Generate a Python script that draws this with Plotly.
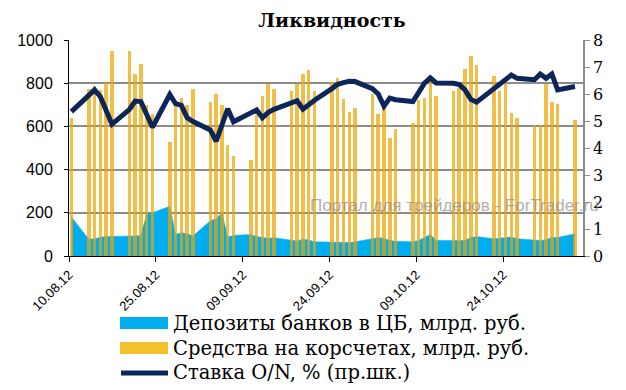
import pandas as pd
import plotly.graph_objects as go

dates = [
    "2012-08-10",
    "2012-08-13", "2012-08-14", "2012-08-15", "2012-08-16", "2012-08-17",
    "2012-08-20", "2012-08-21", "2012-08-22", "2012-08-23", "2012-08-24",
    "2012-08-27", "2012-08-28", "2012-08-29", "2012-08-30", "2012-08-31",
    "2012-09-03", "2012-09-04", "2012-09-05", "2012-09-06", "2012-09-07",
    "2012-09-10", "2012-09-11", "2012-09-12", "2012-09-13", "2012-09-14",
    "2012-09-17", "2012-09-18", "2012-09-19", "2012-09-20", "2012-09-21",
    "2012-09-24", "2012-09-25", "2012-09-26", "2012-09-27", "2012-09-28",
    "2012-10-01", "2012-10-02", "2012-10-03", "2012-10-04", "2012-10-05",
    "2012-10-08", "2012-10-09", "2012-10-10", "2012-10-11", "2012-10-12",
    "2012-10-15", "2012-10-16", "2012-10-17", "2012-10-18", "2012-10-19",
    "2012-10-22", "2012-10-23", "2012-10-24", "2012-10-25", "2012-10-26",
    "2012-10-29", "2012-10-30", "2012-10-31", "2012-11-01", "2012-11-02",
    "2012-11-05",
]

# Средства на корсчетах, млрд. руб.
corr_accounts = [
    640,
    775, 785, 770, 800, 948,
    948, 843, 890, 698, 656,
    530, 700, 732, 700, 775,
    715, 750, 700, 515, 465,
    445, 655, 740, 795, 775,
    766, 797, 842, 860, 766,
    805, 825, 725, 665, 683,
    750, 656, 685, 548, 590,
    615, 720, 732, 810, 740,
    766, 780, 868, 926, 885,
    835, 765, 805, 660, 640,
    605, 605, 795, 715, 705,
    630,
]

# Депозиты банков в ЦБ, млрд. руб.
deposits = [
    180,
    78, 80, 87, 90, 90,
    90, 93, 95, 195, 200,
    230, 100, 108, 103, 93,
    163, 172, 200, 88, 95,
    100, 90, 85, 82, 85,
    72, 70, 78, 74, 66,
    64, 64, 62, 62, 66,
    82, 85, 82, 72, 68,
    66, 72, 88, 100, 72,
    70, 70, 72, 86, 90,
    80, 82, 85, 88, 80,
    72, 72, 75, 86, 86,
    103,
]

# Ставка O/N, %
rate_on = [
    5.35,
    5.93, 6.15, 5.90, 5.33, 4.88,
    5.42, 5.74, 5.72, 5.23, 4.77,
    5.98, 5.64, 5.58, 5.12, 4.98,
    4.67, 4.25, 4.85, 5.45, 4.97,
    5.27, 5.41, 5.12, 5.32, 5.43,
    5.69, 5.75, 5.44, 5.63, 5.77,
    6.20, 6.36, 6.42, 6.47, 6.46,
    6.20, 6.00, 5.55, 5.85, 5.79,
    5.72, 6.08, 6.40, 6.60, 6.41,
    6.40, 6.35, 6.15, 5.80, 5.70,
    6.20, 6.37, 6.55, 6.70, 6.58,
    6.53, 6.74, 6.58, 6.74, 6.15,
    6.28,
]

title_text = "Ликвидность"
name_dep = "Депозиты банков в ЦБ, млрд. руб."
name_corr = "Средства на корсчетах, млрд. руб."
name_rate = "Ставка O/N, % (пр.шк.)"
watermark = "Портал для трейдеров - ForTrader.ru"

BLUE = "#00AEEF"
YELLOW = "rgba(236,165,0,0.72)"
YELLOW_LEG = "#F2C12E"
NAVY = "#0C2659"

x = pd.to_datetime(dates) + pd.Timedelta(hours=10)
DAY = 86400000

fig = go.Figure()
fig.add_trace(go.Scatter(
    x=x, y=deposits, name=name_dep, mode="lines", fill="tozeroy",
    fillcolor=BLUE, line=dict(color=BLUE, width=0.5), yaxis="y",
    showlegend=False,
))
fig.add_trace(go.Bar(
    x=x, y=corr_accounts, name=name_corr, marker=dict(color=YELLOW, line=dict(width=0)),
    width=0.6 * DAY, yaxis="y2", showlegend=False,
))
fig.add_trace(go.Scatter(
    x=x, y=rate_on, name=name_rate, mode="lines",
    line=dict(color=NAVY, width=5), yaxis="y3", showlegend=False,
))

# page offset (browser body margin) and plot area geometry in page px
OFF = 8
FW, FH = 626 - OFF, 390 - OFF
PL, PR, PT, PB = 69, 583, 40, 256  # plot area edges on the page
L, T = PL - OFF, PT - OFF
R, B = FW - (PR - OFF), FH - (PB - OFF)
W, H = PR - PL, PB - PT

def px(xp):
    return (xp - PL) / W

def py(yp):
    return (PB - yp) / H

shapes = [
    dict(type="rect", xref="paper", yref="paper", x0=px(120), x1=px(168),
         y0=py(317), y1=py(329), fillcolor=BLUE, line=dict(width=0)),
    dict(type="rect", xref="paper", yref="paper", x0=px(120), x1=px(168),
         y0=py(342), y1=py(354), fillcolor=YELLOW_LEG, line=dict(width=0)),
    dict(type="line", xref="paper", yref="paper", x0=px(121), x1=px(168),
         y0=py(373), y1=py(373), line=dict(color=NAVY, width=5)),
]
serif = "DejaVu Serif"
LEG = 19.5
annotations = [
    dict(text=name_dep, xref="paper", yref="paper", x=px(171), y=py(323),
         xanchor="left", yanchor="middle", showarrow=False,
         font=dict(family=serif, size=LEG, color="black")),
    dict(text=name_corr, xref="paper", yref="paper", x=px(171), y=py(348),
         xanchor="left", yanchor="middle", showarrow=False,
         font=dict(family=serif, size=LEG, color="black")),
    dict(text=name_rate, xref="paper", yref="paper", x=px(171), y=py(373),
         xanchor="left", yanchor="middle", showarrow=False,
         font=dict(family=serif, size=LEG, color="black")),
    dict(text=watermark, xref="paper", yref="paper", x=px(308), y=py(205),
         xanchor="left", yanchor="middle", showarrow=False,
         font=dict(family="Liberation Sans", size=17, color="rgba(140,140,140,0.7)")),
]

fig.update_layout(
    width=FW, height=FH,
    margin=dict(l=L, r=R, t=T, b=B, autoexpand=False),
    paper_bgcolor="white", plot_bgcolor="white",
    title=dict(text="<b>" + title_text + "</b>", xref="container", yref="container",
               x=(332 - OFF) / FW, xanchor="center",
               y=1 - (20 - OFF) / FH, yanchor="middle",
               font=dict(family=serif, size=19, color="black")),
    bargap=0,
    shapes=shapes,
    annotations=annotations,
    xaxis=dict(
        type="date",
        range=[pd.Timestamp("2012-08-10"), pd.Timestamp("2012-08-10") + pd.Timedelta(days=88.8)],
        tick0="2012-08-10", dtick=15 * DAY, tickformat="%d.%m.%y",
        tickangle=-45, ticks="outside", ticklen=5, tickcolor="black",
        showline=True, linecolor="black", linewidth=1, showgrid=False,
        tickfont=dict(family="Liberation Sans", size=13, color="black"),
    ),
    yaxis=dict(
        range=[0, 1000], dtick=200, showgrid=True, gridcolor="#8C8C8C", gridwidth=1.5,
        showline=True, linecolor="black", linewidth=1, ticks="outside", ticklen=4,
        tickcolor="black", zeroline=False, ticklabelstandoff=8,
        tickfont=dict(family="Liberation Sans", size=16, color="black"),
    ),
    yaxis2=dict(range=[0, 1000], overlaying="y", visible=False),
    yaxis3=dict(
        range=[0, 8], dtick=1, overlaying="y", side="right", showgrid=False,
        showline=True, linecolor="#8C8C8C", linewidth=1.5, ticks="outside", ticklen=5,
        tickcolor="#8C8C8C", zeroline=False,
        tickfont=dict(family=serif, size=16, color="black"),
    ),
)

fig.write_html("out.html")
